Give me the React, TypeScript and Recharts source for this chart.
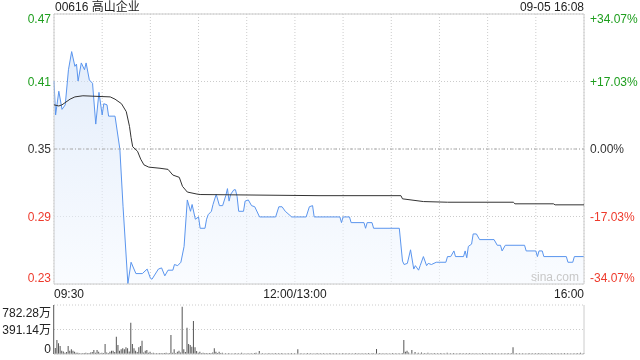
import {
  ComposedChart,
  Area,
  Line,
  XAxis,
  YAxis,
  CartesianGrid,
  ReferenceArea,
  ReferenceLine,
  BarChart,
  Bar,
} from "recharts";

// minutes since 09:30 (lunch break removed: 150 = 12:00/13:00, 330 = 16:00)
const priceMin = [
  0, 1, 3, 5, 7, 9, 11, 13, 14, 15, 17, 19, 20, 22, 24, 26, 28, 30, 31, 33, 34, 38, 41, 43, 46, 48, 51,
  55, 58, 60, 61, 65, 67, 69, 71, 74, 75, 77, 79, 81, 83, 85, 86, 88, 90, 91, 94, 95, 96, 98, 99, 101,
  103, 105, 107, 108, 109, 110, 112, 113, 114, 115, 118, 119, 121, 123, 125, 128, 138, 140, 142, 144,
  148, 157, 159, 161, 162, 178, 179, 180, 184, 185, 193, 194, 195, 198, 199, 215, 217, 218, 220, 222,
  224, 225, 227, 228, 230, 232, 233, 235, 238, 244, 245, 247, 249, 250, 255, 256, 257, 258, 260, 261,
  263, 265, 274, 276, 278, 279, 281, 293, 294, 300, 301, 302, 304, 305, 319, 320, 323, 324, 330,
];
const priceVal = [
  0.41, 0.38, 0.401, 0.385, 0.389, 0.42, 0.436, 0.423, 0.425, 0.41, 0.426, 0.42, 0.426, 0.411, 0.408,
  0.372, 0.4, 0.38, 0.39, 0.389, 0.379, 0.379, 0.35, 0.299, 0.231, 0.25, 0.24, 0.24, 0.244, 0.236, 0.235,
  0.244, 0.245, 0.238, 0.243, 0.243, 0.248, 0.247, 0.25, 0.264, 0.305, 0.295, 0.301, 0.288, 0.29, 0.28,
  0.28, 0.288, 0.292, 0.295, 0.301, 0.31, 0.3, 0.3, 0.309, 0.315, 0.304, 0.31, 0.314, 0.314, 0.308,
  0.295, 0.295, 0.304, 0.305, 0.3, 0.299, 0.29, 0.29, 0.299, 0.299, 0.295, 0.29, 0.29, 0.299, 0.3, 0.29,
  0.29, 0.285, 0.29, 0.29, 0.285, 0.285, 0.28, 0.285, 0.285, 0.28, 0.28, 0.251, 0.248, 0.249, 0.261,
  0.244, 0.247, 0.243, 0.247, 0.255, 0.247, 0.249, 0.248, 0.25, 0.25, 0.255, 0.255, 0.26, 0.255, 0.255,
  0.26, 0.254, 0.264, 0.266, 0.275, 0.275, 0.27, 0.27, 0.265, 0.265, 0.26, 0.265, 0.265, 0.26, 0.26,
  0.255, 0.26, 0.26, 0.255, 0.255, 0.25, 0.25, 0.255, 0.255,
];

const avgMin = [0, 3, 5, 10, 13, 18, 35, 38, 42, 45, 47, 48, 49, 52, 54, 56, 59, 66, 71, 74, 78, 80, 83, 89, 91, 165, 216, 217, 230, 245, 286, 287, 311, 312, 330];
const avgVal = [
  0.389, 0.388, 0.389, 0.394, 0.396, 0.397, 0.396, 0.394, 0.39, 0.383, 0.37, 0.36, 0.352, 0.348, 0.341,
  0.336, 0.334, 0.333, 0.332, 0.327, 0.325, 0.317, 0.312, 0.3102, 0.3098, 0.3088, 0.3088, 0.306, 0.3036,
  0.303, 0.303, 0.3016, 0.3016, 0.3007, 0.3007,
];

// volume in 万 shares
const volMin = [
  0, 1, 2, 3, 4, 5, 6, 7, 8, 9, 10, 11, 12, 13, 14, 15, 16, 17, 18, 19, 20, 21, 22, 23, 24, 25, 26, 27,
  28, 29, 30, 31, 32, 33, 34, 35, 36, 37, 38, 39, 40, 41, 42, 43, 44, 45, 46, 47, 48, 49, 50, 51, 52, 53,
  54, 55, 56, 57, 58, 59, 60, 61, 62, 63, 64, 65, 66, 67, 68, 69, 70, 71, 72, 73, 74, 75, 76, 77, 78, 79,
  80, 81, 82, 83, 84, 85, 86, 87, 88, 89, 90, 91, 92, 93, 94, 95, 96, 97, 98, 99, 100, 101, 102, 103,
  104, 105, 107, 109, 111, 113, 115, 117, 119, 121, 123, 125, 126, 128, 130, 132, 134, 136, 138, 140,
  142, 144, 146, 148, 150, 152, 154, 156, 158, 160, 162, 164, 166, 168, 170, 172, 174, 176, 178, 180,
  182, 184, 186, 188, 190, 192, 194, 196, 198, 199, 201, 203, 205, 207, 209, 211, 213, 215, 217, 218,
  219, 220, 221, 223, 225, 227, 229, 231, 233, 235, 237, 239, 241, 243, 245, 247, 249, 251, 253, 255,
  257, 259, 261, 263, 265, 267, 269, 271, 273, 275, 277, 279, 281, 283, 285, 286, 288, 290, 292, 294,
  296, 298, 300, 302, 304, 306, 308, 310, 312, 314, 316, 318, 320, 322, 324, 326, 328, 330,
];
const volVal = [
  782, 95, 223, 170, 128, 53, 40, 21, 30, 128, 53, 75, 53, 37, 18, 21, 12, 9, 11, 14, 21, 10, 15, 24, 30,
  64, 18, 64, 37, 12, 20, 14, 160, 22, 16, 37, 53, 53, 30, 276, 144, 53, 75, 90, 75, 107, 90, 40, 500,
  160, 90, 53, 30, 107, 128, 213, 24, 53, 64, 18, 37, 12, 21, 9, 11, 8, 16, 10, 11, 14, 21, 9, 16, 303,
  20, 75, 14, 37, 53, 22, 755, 75, 30, 420, 160, 144, 117, 527, 107, 48, 20, 37, 12, 18, 10, 14, 9, 16,
  12, 22, 90, 37, 15, 37, 14, 20, 11, 16, 9, 14, 12, 18, 8, 13, 10, 15, 21, 48, 12, 9, 15, 11, 17, 10,
  14, 8, 12, 16, 10, 75, 13, 9, 15, 11, 8, 14, 10, 12, 9, 16, 11, 13, 8, 15, 10, 12, 9, 14, 11, 13, 10,
  16, 9, 12, 80, 14, 10, 13, 9, 15, 11, 12, 16, 223, 37, 53, 24, 64, 30, 18, 22, 14, 19, 12, 16, 10, 15,
  13, 18, 11, 14, 9, 16, 12, 10, 15, 11, 13, 9, 14, 10, 12, 16, 11, 9, 13, 10, 15, 12, 107, 14, 10, 13,
  9, 16, 11, 12, 15, 10, 13, 9, 14, 11, 12, 10, 15, 13, 9, 12, 16, 20, 14,
];

const prevClose = 0.35;
const yMin = 0.2308;
const yMax = 0.4692;
const yTicks = [0.2308, 0.2904, 0.35, 0.4096, 0.4692];
const leftLabels = ["0.23", "0.29", "0.35", "0.41", "0.47"];
const rightLabels = ["-34.07%", "-17.03%", "0.00%", "+17.03%", "+34.07%"];
const xTicks = [0, 30, 60, 90, 120, 150, 180, 210, 240, 270, 300, 330];
const volTicks = [0, 391.14, 782.28];
const volLabels = ["0", "391.14万", "782.28万"];

const priceData = priceMin.map((t, i) => ({ t, price: priceVal[i] }));
const avgData = avgMin.map((t, i) => ({ t, avg: avgVal[i] }));
const volData = volMin.map((t, i) => ({ t, vol: volVal[i] }));

const FONT = '"Liberation Sans", Arial, "Noto Sans CJK SC", sans-serif';
const GREEN = "#1e9e1e";
const RED = "#ee3a2c";

function labelColor(i: number) {
  if (i === 2) return "#333";
  return i > 2 ? GREEN : RED;
}

function PriceTick(props: any) {
  const { y, payload } = props;
  const i = yTicks.indexOf(payload.value);
  if (i < 0) return <g />;
  const shift = i === 0 ? -6 : i === 4 ? 5 : 0;
  const c = labelColor(i);
  return (
    <g>
      <text x={51} y={y + shift} dy={4} textAnchor="end" fontSize={12} fill={c} fontFamily={FONT}>
        {leftLabels[i]}
      </text>
      <text x={590} y={y + shift} dy={4} textAnchor="start" fontSize={12} fill={c} fontFamily={FONT}>
        {rightLabels[i]}
      </text>
    </g>
  );
}

function TimeTick(props: any) {
  const { x, payload } = props;
  const v = payload.value;
  let label = "";
  let anchor: "start" | "middle" | "end" = "middle";
  if (v === 0) {
    label = "09:30";
    anchor = "start";
  } else if (v === 150) {
    label = "12:00/13:00";
  } else if (v === 330) {
    label = "16:00";
    anchor = "end";
  }
  if (!label) return <g />;
  return (
    <text x={x} y={298} textAnchor={anchor} fontSize={12} fill="#222" fontFamily={FONT}>
      {label}
    </text>
  );
}

function VolTick(props: any) {
  const { y, payload } = props;
  const i = volTicks.indexOf(payload.value);
  if (i < 0) return <g />;
  const shift = i === 0 ? -5 : i === 2 ? 8 : 0;
  return (
    <text x={51} y={y + shift} dy={4} textAnchor="end" fontSize={12} fill="#222" fontFamily={FONT}>
      {volLabels[i]}
    </text>
  );
}

export default function App() {
  return (
    <div style={{ position: "fixed", left: 0, top: 0, width: 640, height: 360, background: "#fff", fontFamily: FONT }}>
      <div style={{ position: "absolute", left: 55, top: 0, fontSize: 12, color: "#222", lineHeight: "15px" }}>
        00616 高山企业
      </div>
      <div style={{ position: "absolute", right: 56, top: 0, fontSize: 12, color: "#222", lineHeight: "15px" }}>
        09-05 16:08
      </div>
      <div style={{ position: "absolute", left: 0, top: 0 }}>
        <ComposedChart width={640} height={300} margin={{ top: 14, right: 56, bottom: 0, left: 0 }}>
          <defs>
            <linearGradient id="priceFill" x1="0" y1="0" x2="0" y2="1">
              <stop offset="0%" stopColor="#cfe0f8" stopOpacity={0.95} />
              <stop offset="100%" stopColor="#f5f9ff" stopOpacity={0.9} />
            </linearGradient>
          </defs>
          <CartesianGrid stroke="#ccc" strokeDasharray="1 2" />
          <XAxis
            dataKey="t"
            type="number"
            domain={[0, 330]}
            ticks={xTicks}
            interval={0}
            height={16}
            axisLine={false}
            tickLine={false}
            tick={<TimeTick />}
          />
          <YAxis
            type="number"
            domain={[yMin, yMax]}
            ticks={yTicks}
            interval={0}
            width={54}
            axisLine={false}
            tickLine={false}
            tick={<PriceTick />}
            allowDataOverflow
          />
          <ReferenceLine y={prevClose} stroke="#aaa" strokeDasharray="3 2 1 2" />
          <Area
            data={priceData}
            dataKey="price"
            type="linear"
            stroke="#5a95ee"
            strokeWidth={1}
            fill="url(#priceFill)"
            dot={false}
            activeDot={false}
            isAnimationActive={false}
          />
          <Line
            data={avgData}
            dataKey="avg"
            type="linear"
            stroke="#333"
            strokeWidth={1}
            dot={false}
            activeDot={false}
            isAnimationActive={false}
          />
          <ReferenceArea x1={0} x2={330} y1={yMin} y2={yMax} fill="none" stroke="#ccc" strokeWidth={1} />
        </ComposedChart>
      </div>
      <div style={{ position: "absolute", left: 531, top: 270, fontSize: 12, color: "#c8c8c8" }}>sina.com</div>
      <div style={{ position: "absolute", left: 0, top: 300 }}>
        <BarChart width={640} height={60} data={volData} margin={{ top: 5, right: 56, bottom: 6, left: 0 }}>
          <CartesianGrid stroke="#ccc" strokeDasharray="1 2" vertical={false} />
          <XAxis dataKey="t" type="number" domain={[0, 330]} hide />
          <YAxis
            type="number"
            domain={[0, 782.28]}
            ticks={volTicks}
            interval={0}
            width={54}
            axisLine={false}
            tickLine={false}
            tick={<VolTick />}
          />
          <ReferenceLine x={330} stroke="#ccc" />
          <ReferenceLine y={0} stroke="#ccc" />
          <Bar dataKey="vol" fill="#555" barSize={1} isAnimationActive={false} />
        </BarChart>
      </div>
    </div>
  );
}
